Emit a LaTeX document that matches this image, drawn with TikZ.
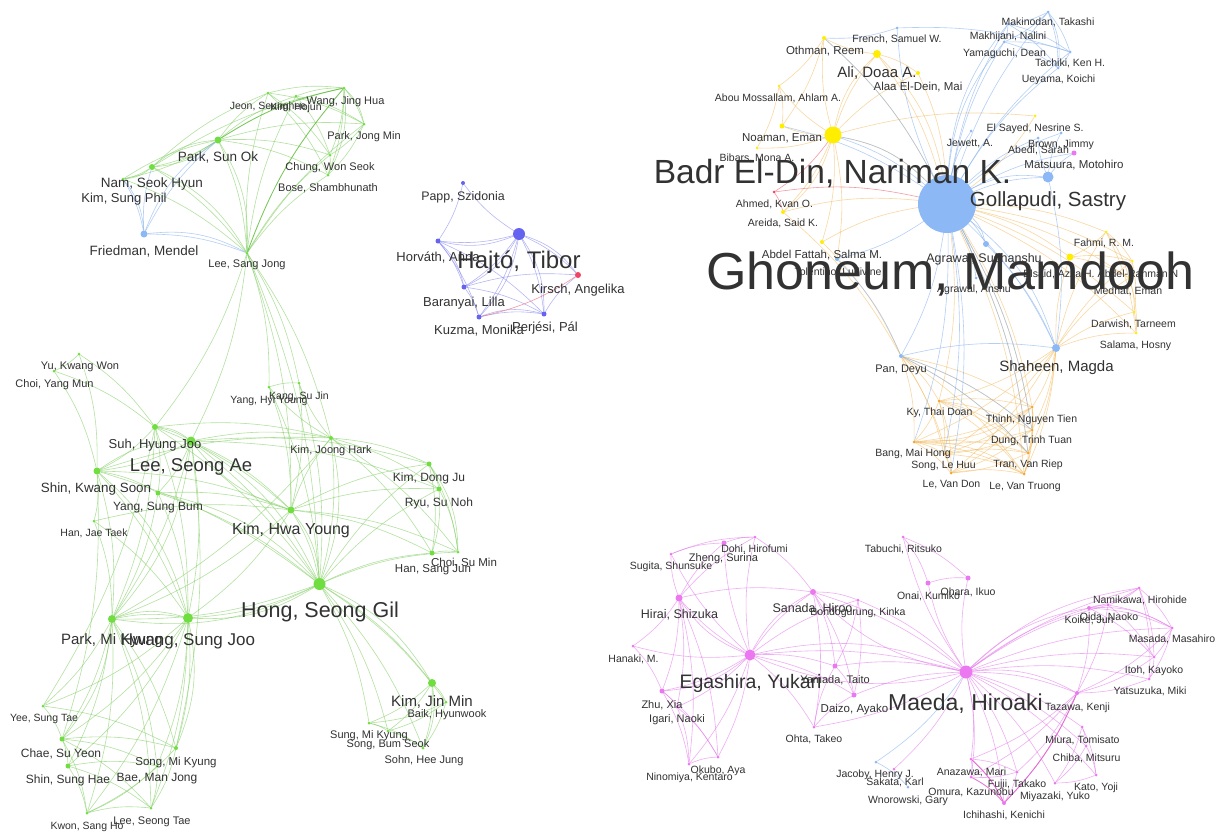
\documentclass[tikz,border=0pt]{standalone}
\usepackage{fontspec}
\setmainfont{Liberation Sans}
\definecolor{txt}{RGB}{50,50,50}
\definecolor{gnode}{RGB}{112,222,64}
\definecolor{gedge}{RGB}{128,206,98}
\definecolor{gdark}{RGB}{96,190,60}
\definecolor{bnode}{RGB}{140,185,245}
\definecolor{bedge}{RGB}{130,175,240}
\definecolor{ynode}{RGB}{255,238,0}
\definecolor{yedge}{RGB}{244,190,100}
\definecolor{onode}{RGB}{245,165,50}
\definecolor{pnode}{RGB}{100,100,240}
\definecolor{pedge}{RGB}{135,135,240}
\definecolor{mnode}{RGB}{235,120,240}
\definecolor{medge}{RGB}{228,120,235}
\definecolor{rnode}{RGB}{240,70,100}
\definecolor{redge}{RGB}{240,100,115}
\pgfdeclarelayer{bg}
\pgfdeclarelayer{edges}
\pgfdeclarelayer{labels}
\pgfsetlayers{bg,edges,main,labels}
\tikzset{
  dot/.style={circle,inner sep=0pt,outer sep=0pt,draw=none},
  lbl/.style={anchor=base,inner sep=0pt,outer sep=0pt,text=txt},
  edgebase/.style={line width=.6pt,bend left=10},
  ge/.style={edgebase,draw=gedge,opacity=.6},
  ge2/.style={ge,bend left=17},
  gd/.style={edgebase,draw=gdark,opacity=.85,line width=.85pt},
  be/.style={edgebase,draw=bedge,opacity=.6},
  be2/.style={be,bend left=17},
  ye/.style={edgebase,draw=yedge,opacity=.6},
  ye2/.style={ye,bend left=17},
  pe/.style={edgebase,draw=pedge,opacity=.6},
  pe2/.style={pe,bend left=17},
  me/.style={edgebase,draw=medge,opacity=.6},
  me2/.style={me,bend left=17},
  md/.style={edgebase,draw=mnode!80!purple,opacity=.85,line width=.9pt},
  re/.style={edgebase,draw=redge,opacity=.65},
}
% author: name, x, y, radius, colour, label x, label y, font size, text
\newcommand\au[9]{%
  \node[dot,fill=#5,minimum size={2*#4pt}] (#1) at (#2,#3) {};
  \begin{pgfonlayer}{labels}
    \node[lbl,font=\fontsize{#8}{#8}\selectfont,yshift={-0.34*#8pt}] (#1-t) at (#6,#7) {#9};
  \end{pgfonlayer}}
\newcommand\Edges[2]{\foreach \a/\b in {#2}{\draw[#1] (\a) to (\b);}}
\begin{document}
\begin{tikzpicture}[x=1pt,y=-1pt]
\useasboundingbox (0,0) rectangle (1222,831);
\begin{pgfonlayer}{bg}
  \fill[white] (0,0) rectangle (1222,831);
\end{pgfonlayer}

% ---------- green group, upper part
\au{psok}{218}{140}{3.5}{gnode}{218}{157}{13.5}{Park, Sun Ok}
\au{nam}{152}{167}{3}{gnode}{152}{183}{13.5}{Nam, Seok Hyun}
\au{ksp}{123}{179}{1.5}{gnode}{124}{198}{13}{Kim, Sung Phil}
\au{fried}{144}{234}{3.5}{bnode}{144}{251}{13.5}{Friedman, Mendel}
\au{lsj}{247}{253}{1.5}{gnode}{247}{264}{11}{Lee, Sang Jong}
\au{jeon}{268}{93}{1.5}{gnode}{268}{105.5}{10.5}{Jeon, Seunghee}
\au{khj}{296}{96}{1.5}{gnode}{296}{106.5}{10.5}{Kim, Hojun}
\au{wang}{344}{88}{1.5}{gnode}{345.5}{100.5}{11}{Wang, Jing Hua}
\au{pjm}{364}{124}{1.5}{gnode}{364}{136}{11}{Park, Jong Min}
\au{chung}{330}{155}{1.5}{gnode}{330}{167}{11}{Chung, Won Seok}
\au{bose}{328}{175}{1.5}{gnode}{328}{187.5}{11}{Bose, Shambhunath}

% ---------- green group, lower part
\au{yu}{79}{354}{1.5}{gnode}{80}{366}{11}{Yu, Kwang Won}
\au{choi}{54}{371}{1.5}{gnode}{54.5}{384}{11}{Choi, Yang Mun}
\au{yhy}{269}{387}{1.5}{gnode}{269}{400}{10.5}{Yang, Hyi Young}
\au{ksj}{299}{383}{1.5}{gnode}{299}{396}{10.5}{Kang, Su Jin}
\au{shj}{155}{427}{3}{gnode}{155}{444.5}{13}{Suh, Hyung Joo}
\au{lsa}{191}{441}{4.5}{gnode}{191}{465}{18.5}{Lee, Seong Ae}
\au{sks}{97}{471}{3.5}{gnode}{96}{487.5}{13.4}{Shin, Kwang Soon}
\au{ysb}{158}{493}{2.5}{gnode}{158}{506.5}{12}{Yang, Sung Bum}
\au{hjt}{94}{521}{1.5}{gnode}{94}{532.5}{10.5}{Han, Jae Taek}
\au{kjh}{331}{438}{2}{gnode}{331}{450}{11}{Kim, Joong Hark}
\au{kdj}{429}{464}{2.5}{gnode}{429}{477.5}{12}{Kim, Dong Ju}
\au{ryu}{439}{489}{2.5}{gnode}{439}{502.5}{12}{Ryu, Su Noh}
\au{khy}{291}{510}{3.5}{gnode}{291}{529}{16}{Kim, Hwa Young}
\au{hsjun}{432}{553}{2.5}{gnode}{433}{568.5}{11.5}{Han, Sang Jun}
\au{csm}{458}{552}{1.5}{gnode}{464}{563}{11.5}{Choi, Su Min}
\au{hong}{319.5}{584}{6}{gnode}{320}{610.5}{21.5}{Hong, Seong Gil}
\au{pmk}{112}{619}{4}{gnode}{112}{639.5}{15}{Park, Mi Kyung}
\au{hsj}{188}{618}{5}{gnode}{188}{640}{17}{Hwang, Sung Joo}
\au{yee}{43}{706}{1.5}{gnode}{44}{718}{10.5}{Yee, Sung Tae}
\au{chae}{62}{739}{2.5}{gnode}{61}{753.5}{12}{Chae, Su Yeon}
\au{smky}{176}{748}{2}{gnode}{176}{762}{11.5}{Song, Mi Kyung}
\au{shsh}{68}{766}{2.5}{gnode}{68}{779}{12}{Shin, Sung Hae}
\au{bae}{157}{766}{1.5}{gnode}{157}{777.5}{12}{Bae, Man Jong}
\au{kwon}{87}{813}{1.5}{gnode}{87}{825.5}{10.5}{Kwon, Sang Ho}
\au{lst}{151}{808}{1.5}{gnode}{152}{820.5}{11}{Lee, Seong Tae}
\au{kjm}{432}{683}{4}{gnode}{432}{701.5}{15}{Kim, Jin Min}
\au{baik}{446}{702}{1.5}{gnode}{447}{714}{11}{Baik, Hyunwook}
\au{smk}{369}{723}{1.5}{gnode}{369}{735}{11}{Sung, Mi Kyung}
\au{sbs}{388}{731}{1.5}{gnode}{388}{743.5}{11}{Song, Bum Seok}
\au{sohn}{423}{748}{1.5}{gnode}{424}{760}{11}{Sohn, Hee Jung}

% ---------- violet group
\au{papp}{463}{183}{2}{pnode}{463}{196}{12.4}{Papp, Szidonia}
\au{htib}{519}{234}{6}{pnode}{519}{260}{24}{Hajtó, Tibor}
\au{horv}{438}{241}{2.5}{pnode}{438}{257.5}{13}{Horváth, Anna}
\au{kir}{578}{275}{3}{rnode}{578}{289}{13}{Kirsch, Angelika}
\au{bar}{464}{287}{2.5}{pnode}{464}{302.5}{13}{Baranyai, Lilla}
\au{kuz}{479}{317}{2.5}{pnode}{479}{330}{13}{Kuzma, Monika}
\au{perj}{544}{314}{2.5}{pnode}{545}{327.5}{13}{Perjési, Pál}

% ---------- blue / yellow group
\au{french}{897}{28}{1.5}{bnode}{897}{39}{10.5}{French, Samuel W.}
\au{othman}{824}{38}{2}{ynode}{825}{50.5}{11.5}{Othman, Reem}
\au{ali}{877}{54}{4}{ynode}{877}{72.5}{15}{Ali, Doaa A.}
\au{alaa}{918}{73}{2}{ynode}{918}{86.5}{11.5}{Alaa El-Dein, Mai}
\au{abou}{779}{86}{1.5}{ynode}{778}{97.5}{10.5}{Abou Mossallam, Ahlam A.}
\au{noaman}{782}{126}{2.5}{ynode}{782}{138}{11.5}{Noaman, Eman}
\au{badr}{833}{135}{8.5}{ynode}{832.5}{172}{33.5}{Badr El-Din, Nariman K.}
\au{bibars}{757}{148}{1.5}{ynode}{757}{158}{10.5}{Bibars, Mona A.}
\au{ahmed}{774}{192}{1.5}{rnode}{774.5}{203.5}{10.5}{Ahmed, Kvan O.}
\au{areida}{783}{212}{2}{ynode}{783}{223}{10.5}{Areida, Said K.}
\au{ghon}{947}{204}{29}{bnode}{950.5}{272}{52}{Ghoneum, Mamdooh}
\au{makin}{1048}{12}{1.5}{bnode}{1048}{21.5}{10.5}{Makinodan, Takashi}
\au{makh}{1008}{24}{1.5}{bnode}{1008}{35.5}{10.5}{Makhijani, Nalini}
\au{yama}{1004}{42}{1.5}{bnode}{1004.5}{52.5}{10.5}{Yamaguchi, Dean}
\au{tach}{1070}{52}{1.5}{bnode}{1070}{62.5}{10.5}{Tachiki, Ken H.}
\au{ueya}{1058}{68}{1.5}{bnode}{1058.5}{79}{10.5}{Ueyama, Koichi}
\au{elsayed}{1035}{116}{1.5}{ynode}{1035}{127.5}{10.5}{El Sayed, Nesrine S.}
\au{jew}{971}{131}{1.5}{bnode}{970}{142.5}{10.5}{Jewett, A.}
\au{brown}{1061}{133}{1.5}{bnode}{1061}{144}{10.5}{Brown, Jimmy}
\au{abedi}{1038}{138}{1.5}{bnode}{1038.5}{149.5}{10.5}{Abedi, Sarah}
\au{mats}{1074}{153}{2.5}{mnode}{1074}{165}{11.5}{Matsuura, Motohiro}
\au{goll}{1048}{177}{5.5}{bnode}{1048}{200}{20.5}{Gollapudi, Sastry}
\au{agrs}{986}{244}{3}{bnode}{984}{258}{12.5}{Agrawal, Sudhanshu}
\au{fahmi}{1106}{232}{1.5}{ynode}{1104}{243}{10.5}{Fahmi, R. M.}
\au{elsaid}{1070}{257}{3.5}{ynode}{1059}{273.5}{10.5}{Elsaid, Azza H.}
\au{arahman}{1132}{261}{1.5}{ynode}{1138}{273.5}{10.5}{Abdel-Rahman N}
\au{medhat}{1129}{278}{1.5}{ynode}{1128}{290.5}{10.5}{Medhat, Eman}
\au{agra}{976}{278}{1.5}{bnode}{974}{288.5}{10.5}{Agrawal, Anshu}
\au{tol}{837}{259}{2}{bnode}{838}{272}{10.5}{Tolentino, Ludivine}
\au{afat}{822}{242}{2}{ynode}{822}{254.5}{11.5}{Abdel Fattah, Salma M.}
\au{pan}{901}{356}{2}{bnode}{901}{368.5}{11}{Pan, Deyu}
\au{shah}{1056}{348}{4}{bnode}{1056.5}{366}{15}{Shaheen, Magda}
\au{darwish}{1134}{312}{1.5}{ynode}{1133.5}{323.5}{10.5}{Darwish, Tarneem}
\au{salama}{1136}{333}{1.5}{ynode}{1135.5}{344.5}{10.5}{Salama, Hosny}
\au{ky}{939}{401}{1.5}{onode}{939.5}{412}{10.5}{Ky, Thai Doan}
\au{thinh}{1032}{407}{1.5}{onode}{1031.5}{418.5}{10.5}{Thinh, Nguyen Tien}
\au{dung}{1032}{430}{1.5}{onode}{1031.5}{440}{10.5}{Dung, Trinh Tuan}
\au{bang}{914}{442}{1.5}{onode}{913}{452.5}{10.5}{Bang, Mai Hong}
\au{slh}{944}{454}{1.5}{onode}{943.5}{465}{10.5}{Song, Le Huu}
\au{tran}{1028}{453}{1.5}{onode}{1028}{463.5}{10.5}{Tran, Van Riep}
\au{lvd}{951}{473}{1.5}{onode}{951.5}{484}{10.5}{Le, Van Don}
\au{lvt}{1024}{474}{1.5}{onode}{1025}{486}{10.5}{Le, Van Truong}

% ---------- magenta group
\au{dohi}{755}{537}{1.5}{mnode}{754.5}{549}{10.5}{Dohi, Hirofumi}
\au{zheng}{724}{543}{2.5}{mnode}{723.5}{557.5}{11}{Zheng, Surina}
\au{sugita}{671}{554}{1.5}{mnode}{671}{566}{10.5}{Sugita, Shunsuke}
\au{hirai}{679}{598}{3.5}{mnode}{679.5}{614}{12.5}{Hirai, Shizuka}
\au{sanada}{813}{592}{3}{mnode}{812.5}{608.5}{12.5}{Sanada, Hiroo}
\au{bondo}{858}{600}{1.5}{mnode}{858}{612}{10.5}{Bondogurung, Kinka}
\au{hanaki}{633}{646}{1.5}{mnode}{633.5}{658.5}{10.5}{Hanaki, M.}
\au{eg}{750}{655}{5.5}{mnode}{750.5}{681.5}{19.5}{Egashira, Yukari}
\au{yamada}{835}{666}{2.5}{mnode}{835}{680}{11}{Yamada, Taito}
\au{daizo}{854}{695}{2.5}{mnode}{854.5}{709}{11.5}{Daizo, Ayako}
\au{zhu}{662}{691}{2.5}{mnode}{662}{704.5}{11}{Zhu, Xia}
\au{igari}{677}{707}{1.5}{mnode}{677}{719}{11}{Igari, Naoki}
\au{ohta}{814}{727}{1.5}{mnode}{814}{739}{10.5}{Ohta, Takeo}
\au{okubo}{718}{757}{1.5}{mnode}{718}{769.5}{10.5}{Okubo, Aya}
\au{nino}{689}{764}{1.5}{mnode}{689.5}{777}{10.5}{Ninomiya, Kentaro}
\au{jacoby}{876}{762}{1.5}{bnode}{875}{774}{10.5}{Jacoby, Henry J.}
\au{sakata}{894}{769}{1.5}{mnode}{895}{782}{10.5}{Sakata, Karl}
\au{wnor}{908}{787}{1.5}{bnode}{908}{799.5}{10.5}{Wnorowski, Gary}
\au{tabuchi}{903}{537}{1.5}{mnode}{903.5}{548.5}{10.5}{Tabuchi, Ritsuko}
\au{onai}{928}{583}{2.5}{mnode}{928.5}{596}{10.5}{Onai, Kumiko}
\au{ohara}{968}{578}{2.5}{mnode}{968}{592}{10.5}{Ohara, Ikuo}
\au{maeda}{966}{672}{6.5}{mnode}{965.5}{702.5}{23}{Maeda, Hiroaki}
\au{nami}{1139}{588}{1.5}{mnode}{1140}{599.5}{10.5}{Namikawa, Hirohide}
\au{koike}{1089}{608}{2}{mnode}{1089}{619.5}{10.5}{Koike, Jun}
\au{oida}{1108}{605}{1.5}{mnode}{1109}{617}{10.5}{Oida, Naoko}
\au{masada}{1172}{628}{1.5}{mnode}{1172}{639}{10.5}{Masada, Masahiro}
\au{itoh}{1154}{657}{1.5}{mnode}{1154}{670}{10.5}{Itoh, Kayoko}
\au{yatsu}{1149}{679}{1.5}{mnode}{1150}{691}{10.5}{Yatsuzuka, Miki}
\au{tazawa}{1077}{693}{2}{mnode}{1077.5}{707}{10.5}{Tazawa, Kenji}
\au{miura}{1082}{727}{1.5}{mnode}{1082.5}{739.5}{10.5}{Miura, Tomisato}
\au{chiba}{1086}{746}{1.5}{mnode}{1086.5}{758}{10.5}{Chiba, Mitsuru}
\au{kato}{1096}{775}{1.5}{mnode}{1096}{787}{10.5}{Kato, Yoji}
\au{miya}{1055}{783}{1.5}{mnode}{1055}{796}{10.5}{Miyazaki, Yuko}
\au{anaz}{971}{759}{1.5}{mnode}{971.5}{772}{10.5}{Anazawa, Mari}
\au{fujii}{1017}{772}{1.5}{mnode}{1017}{784}{10.5}{Fujii, Takako}
\au{omura}{971}{777}{1.5}{mnode}{971}{792}{10.5}{Omura, Kazunobu}
\au{ichi}{1004}{803}{2}{mnode}{1004}{815}{10.5}{Ichihashi, Kenichi}

\begin{pgfonlayer}{edges}
% green, upper part
\Edges{ge}{psok/nam, psok/ksp, psok/lsj, psok/jeon, psok/khj, psok/pjm, psok/chung, psok/bose,
  nam/ksp, nam/lsj, ksp/lsj, lsj/chung, lsj/bose, lsj/pjm, lsj/jeon, lsj/khj,
  jeon/wang, jeon/pjm, jeon/chung, jeon/bose, khj/wang, khj/pjm, khj/chung, wang/pjm,
  wang/chung, wang/bose, pjm/chung, pjm/bose, chung/bose, nam/jeon, nam/wang, ksp/psok}
\Edges{ge2}{psok/nam, nam/ksp, psok/lsj, nam/lsj, wang/bose, wang/pjm, nam/psok}
\Edges{gd}{lsj/wang, psok/wang}
\Edges{be}{fried/psok, fried/nam, ksp/fried, fried/lsj}
\Edges{be2}{fried/psok, fried/lsj, ksp/fried}
\Edges{ge}{lsj/yhy, lsj/ksj, lsj/kjh, lsj/lsa, lsj/khy, lsj/hong, lsj/shj}
% green, lower part
\Edges{ge}{yu/choi, yu/shj, yu/sks, choi/sks, choi/shj,
  shj/lsa, shj/sks, shj/ysb, shj/khy, shj/hong, shj/pmk, shj/hsj, shj/kjh,
  lsa/sks, lsa/ysb, lsa/khy, lsa/hong, lsa/pmk, lsa/hsj, lsa/kjh, lsa/kdj, lsa/ryu,
  sks/ysb, sks/hjt, sks/khy, sks/hong, sks/pmk, sks/hsj, sks/kjh,
  ysb/khy, ysb/hong, ysb/pmk, ysb/hsj, hjt/pmk, hjt/hsj, hjt/khy,
  khy/hong, khy/pmk, khy/hsj, khy/kjh, khy/kdj, khy/ryu, khy/hsjun, khy/csm,
  kjh/hong, kjh/kdj, kjh/ryu, kjh/hsjun, kjh/csm, kjh/yhy, kjh/ksj, kjh/pmk,
  yhy/ksj, yhy/hong, ksj/hong, yhy/khy, ksj/khy,
  kdj/ryu, kdj/hsjun, kdj/csm, ryu/hsjun, ryu/csm, hsjun/csm,
  hong/kdj, hong/ryu, hong/hsjun, hong/csm, hong/pmk, hong/hsj, pmk/hsj,
  hong/kjm, hong/baik, hong/smk, hong/sbs, hong/sohn,
  kjm/baik, kjm/smk, kjm/sbs, kjm/sohn, baik/smk, baik/sbs, baik/sohn, smk/sbs, smk/sohn, sbs/sohn,
  pmk/yee, pmk/chae, pmk/smky, pmk/shsh, pmk/bae, pmk/kwon, pmk/lst,
  hsj/yee, hsj/chae, hsj/smky, hsj/shsh, hsj/bae, hsj/kwon, hsj/lst,
  yee/chae, yee/smky, chae/smky, chae/shsh, chae/bae, chae/kwon, chae/lst,
  shsh/kwon, shsh/lst, shsh/bae, smky/kwon, smky/lst, bae/kwon, kwon/lst, bae/lst,
  sks/chae, lsa/smky, shj/yee}
\Edges{ge2}{hong/hsj, hong/pmk, pmk/hsj, khy/hong, lsa/hong, hong/kjm, sks/lsa, shj/lsa,
  kjh/hong, kdj/csm, pmk/chae, hsj/smky, kjm/sohn, khy/lsa, sks/hsj, lsa/pmk, ysb/hong}
% violet
\Edges{pe}{htib/papp, htib/horv, htib/bar, htib/kuz, htib/perj, htib/kir, papp/horv,
  horv/bar, horv/kuz, horv/perj, bar/kuz, bar/perj, bar/kir, kuz/perj, perj/kir}
\Edges{pe2}{htib/horv, htib/bar, htib/kuz, htib/perj, htib/kir, kuz/perj, horv/bar}
\Edges{re}{kir/kuz}
% blue and yellow
\Edges{ye}{badr/ali, badr/othman, badr/alaa, badr/abou, badr/noaman, badr/bibars, badr/areida,
  badr/afat, badr/tol, ali/othman, ali/alaa, ali/ghon, othman/ghon, alaa/ghon, abou/noaman,
  abou/bibars, othman/abou, othman/noaman, areida/ghon, afat/ghon, elsayed/ghon, areida/pan, afat/pan,
  ghon/fahmi, ghon/elsaid, ghon/arahman, ghon/medhat, ghon/darwish, ghon/salama,
  shah/fahmi, shah/elsaid, shah/arahman, shah/medhat, shah/darwish, shah/salama,
  fahmi/elsaid, fahmi/arahman, fahmi/medhat, elsaid/arahman, elsaid/medhat, arahman/medhat,
  arahman/darwish, darwish/salama, medhat/darwish, medhat/salama, fahmi/salama, badr/elsayed,
  ghon/ky, ghon/thinh, ghon/dung, ghon/tran, ghon/lvt,
  pan/ky, pan/bang, pan/slh, pan/lvd, pan/thinh, pan/dung, pan/tran, pan/lvt,
  shah/ky, shah/thinh, shah/dung, shah/tran, shah/lvt, shah/bang, shah/slh, shah/lvd,
  ky/thinh, ky/dung, ky/bang, ky/slh, ky/tran, ky/lvd, ky/lvt,
  thinh/dung, thinh/bang, thinh/slh, thinh/tran, thinh/lvd, thinh/lvt,
  dung/bang, dung/slh, dung/tran, dung/lvd, dung/lvt,
  bang/slh, bang/tran, bang/lvd, bang/lvt, slh/tran, slh/lvd, slh/lvt,
  tran/lvd, tran/lvt, lvd/lvt}
\Edges{ye2}{badr/ali, badr/ghon, ali/ghon, badr/areida, bang/lvt, ky/tran, thinh/bang}
\Edges{be}{ghon/french, ghon/makin, ghon/makh, ghon/yama, ghon/tach, ghon/ueya, ghon/jew,
  ghon/brown, ghon/abedi, ghon/mats, ghon/goll, ghon/agrs, ghon/agra, ghon/tol, ghon/pan,
  ghon/shah, noaman/ghon, badr/ghon, french/othman, french/tach, makin/makh, makin/yama,
  makin/tach, makin/ueya, makh/yama, makh/tach, makh/ueya, yama/tach, yama/ueya, tach/ueya,
  goll/brown, goll/mats, goll/abedi, pan/shah, pan/dung, pan/tran, agrs/shah, tol/pan,
  ghon/slh, ghon/lvd, ghon/bang, ghon/dung, ghon/tran, goll/shah, othman/ghon}
\Edges{be2}{ghon/goll, ghon/shah, badr/ghon, ghon/yama, ghon/makh, makin/ueya, ghon/agrs}
\Edges{re}{ahmed/ghon, badr/ahmed, ahmed/areida}
% magenta
\Edges{me}{eg/zheng, eg/dohi, eg/sugita, eg/hirai, eg/sanada, eg/bondo, eg/hanaki, eg/zhu,
  eg/igari, eg/okubo, eg/nino, eg/ohta, eg/yamada, eg/daizo, eg/maeda,
  hirai/sugita, hirai/zheng, hirai/dohi, hirai/hanaki, hirai/zhu, hirai/igari, hirai/nino,
  hirai/okubo, hirai/sanada, sugita/zheng, sugita/dohi, zheng/dohi, dohi/sanada,
  sanada/bondo, sanada/yamada, sanada/daizo, sanada/ohta, sanada/maeda,
  bondo/yamada, bondo/daizo, bondo/maeda, yamada/daizo, yamada/maeda, daizo/maeda,
  ohta/daizo, ohta/yamada, hanaki/zhu, zhu/igari, zhu/nino, zhu/okubo, igari/nino,
  igari/okubo, nino/okubo,
  maeda/tabuchi, maeda/ohara, maeda/onai, maeda/nami, maeda/koike, maeda/oida, maeda/masada,
  maeda/itoh, maeda/yatsu, maeda/tazawa, maeda/miura, maeda/chiba, maeda/kato, maeda/miya,
  maeda/anaz, maeda/fujii, maeda/omura, maeda/ichi, maeda/sakata, maeda/ohta,
  tabuchi/ohara, onai/ohara, tabuchi/onai,
  nami/koike, nami/oida, nami/masada, nami/itoh, nami/yatsu, koike/oida, koike/masada,
  koike/itoh, koike/tazawa, oida/masada, oida/itoh, oida/tazawa, masada/itoh, masada/yatsu,
  masada/tazawa, itoh/yatsu, itoh/tazawa, yatsu/tazawa,
  tazawa/ichi, tazawa/fujii, tazawa/anaz, tazawa/omura,
  miura/chiba, miura/kato, miura/miya, chiba/kato, chiba/miya, kato/miya,
  anaz/fujii, anaz/ichi, fujii/ichi, fujii/omura, anaz/omura}
\Edges{me2}{eg/maeda, maeda/eg, eg/hirai, eg/sanada, maeda/koike, maeda/tazawa,
  maeda/nami, koike/masada, eg/zhu, maeda/sanada}
\Edges{md}{omura/ichi, anaz/ichi, tazawa/ichi}
\Edges{be}{maeda/jacoby, jacoby/wnor}
\end{pgfonlayer}
\end{tikzpicture}
\end{document}
